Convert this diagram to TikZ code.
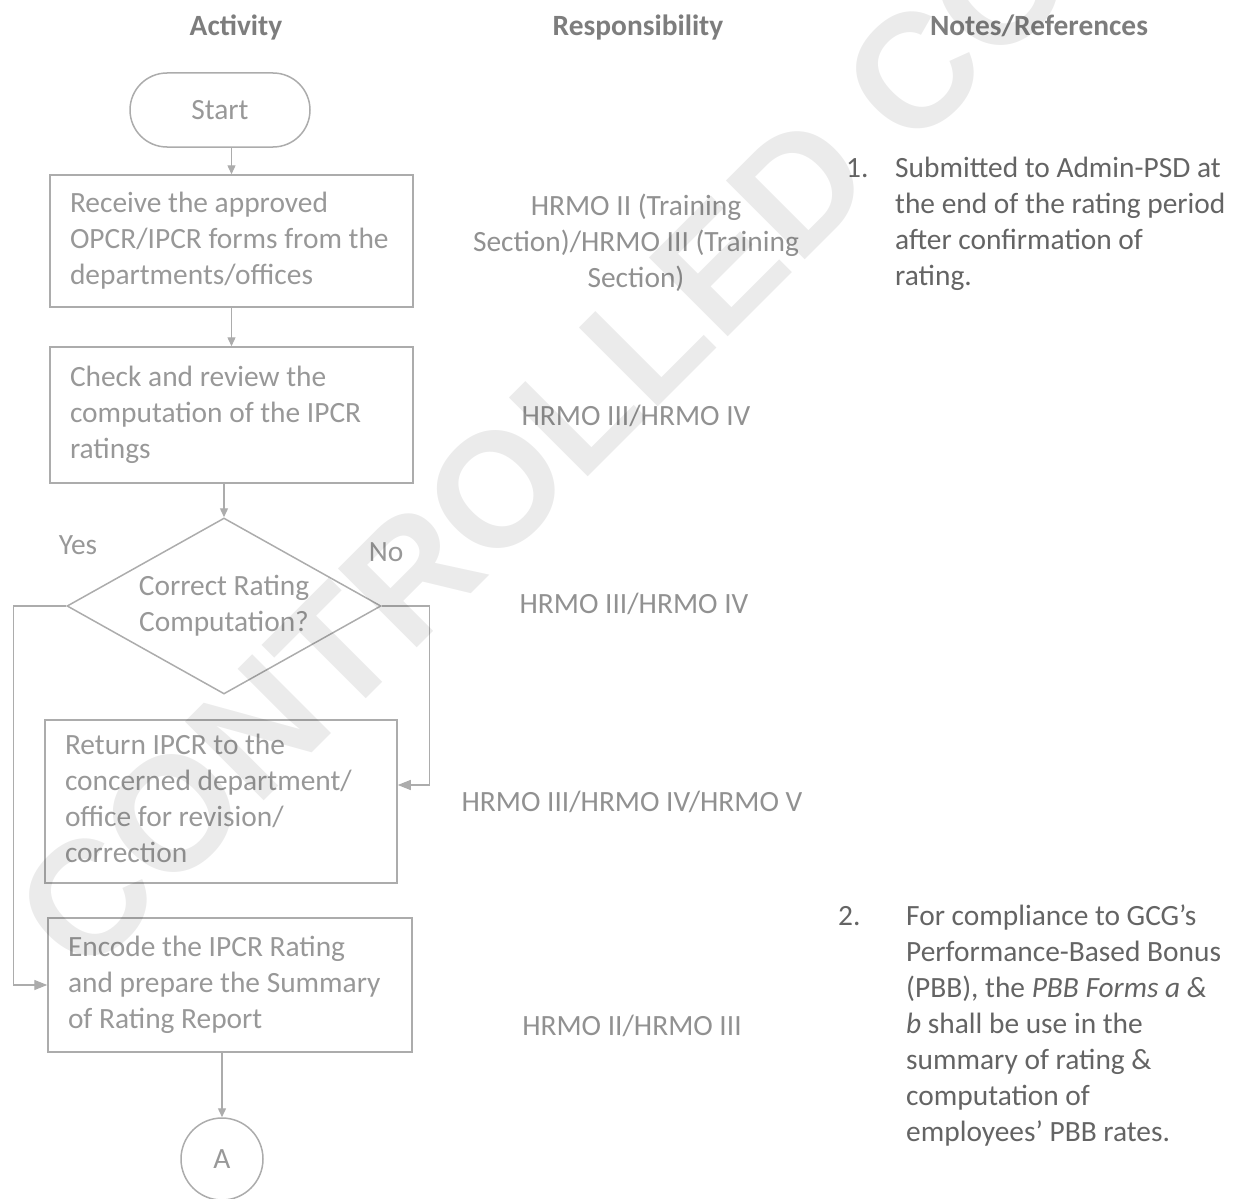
\documentclass[tikz,border=0pt]{standalone}
\usepackage{fontspec}
\setmainfont{Carlito}
\newfontfamily\wmfont{Liberation Sans}
\usetikzlibrary{shapes.geometric,arrows.meta,calc}

\definecolor{lineg}{RGB}{172,172,172}
\definecolor{flowtxt}{RGB}{152,152,152}
\definecolor{resptxt}{RGB}{145,145,145}
\definecolor{notetxt}{RGB}{100,100,100}
\definecolor{headtxt}{RGB}{125,125,125}

\begin{document}
\begin{tikzpicture}[x=1pt,y=-1pt,
  every node/.style={font=\fontsize{29.4}{36}\selectfont},
  stepbox/.style={draw=lineg, line width=1.5pt, rectangle, inner xsep=20pt, inner ysep=0pt,
    align=flush left, text=flowtxt, execute at begin node=\strut, execute at end node=\strut},
  termbox/.style={draw=lineg, line width=1.5pt, rectangle, rounded corners=37pt, text=flowtxt},
  decbox/.style={diamond, draw=lineg, line width=1.5pt, inner sep=0pt, align=center, text=flowtxt},
  connbox/.style={circle, draw=lineg, line width=1.5pt, inner sep=0pt, text=flowtxt},
  flow/.style={draw=lineg, line width=1.4pt, -{Triangle[length=9pt,width=8pt]}},
  sideflow/.style={draw=lineg, line width=1.4pt, -{Triangle[length=13pt,width=10pt]}},
  head/.style={font=\fontsize{29.4}{36}\selectfont\bfseries, text=headtxt, inner sep=0pt},
  resp/.style={text=resptxt, inner sep=0pt},
  lbl/.style={text=flowtxt, inner sep=0pt},
  note/.style={text=notetxt, inner sep=0pt}
]
\useasboundingbox (0,0) rectangle (1235,1199);

% column headings
\node[head, anchor=base] (hact) at (236,36) {Activity};
\node[head, anchor=base] (hresp) at (638,36) {Responsibility};
\node[head, anchor=base] (hnote) at (1039,36) {Notes/References};

% activity column
\node[termbox, minimum width=180pt, minimum height=74pt] (start) at (220,110) {Start};

\node[stepbox, minimum height=132pt, text width=323pt] (recv) at (231.5,241)
  {Receive the approved\\\mbox{OPCR/IPCR forms from the}\\departments/offices};

\node[stepbox, minimum height=136pt, text width=323pt] (check) at (231.5,415)
  {Check and review the\\computation of the IPCR\\ratings};

\node[decbox, aspect=1.78, minimum width=314pt, minimum height=176pt] (dec) at (224,606)
  {Correct Rating\\Computation?};

\node[stepbox, minimum height=163pt, text width=312pt] (ret) at (221,801.5)
  {Return IPCR to the\\concerned department/\\office for revision/\\correction};

\node[stepbox, minimum height=134pt, text width=324pt] (enc) at (230,985)
  {Encode the IPCR Rating\\\mbox{and prepare the Summary}\\of Rating Report};

\node[connbox, minimum size=82pt] (conA) at (222,1159) {A};

\node[lbl, anchor=base] (yes) at (78,554) {Yes};
\node[lbl, anchor=base] (no) at (386,561) {No};

% connectors
\draw[flow] (recv.north |- start.south) -- (recv.north);
\draw[flow] (recv.south) -- (check.north);
\draw[flow] (dec.north |- check.south) -- (dec.north);
\coordinate (retin) at ($(ret.east)+(0,-16.5)$);
\draw[sideflow] (dec.east) -- ++(48,0) |- (retin);
\draw[sideflow] (dec.west) -- ++(-53,0) |- (enc.west);
\draw[flow] (conA.north |- enc.south) -- (conA.north);

% responsibility column
\node[resp, anchor=north, align=center] (r1) at (636,189.8)
  {\strut HRMO II (Training\\Section)/HRMO III (Training\\Section)};
\node[resp, anchor=base] (r2) at (636,425) {HRMO III/HRMO IV};
\node[resp, anchor=base] (r3) at (634,613) {HRMO III/HRMO IV};
\node[resp, anchor=base] (r4) at (632,811) {HRMO III/HRMO IV/HRMO V};
\node[resp, anchor=base] (r5) at (632,1035) {HRMO II/HRMO III};

% notes column
\node[note, anchor=base west] (n1num) at (846,177) {1.};
\node[note, anchor=north west, align=left] (n1) at (895,151.8)
  {\strut Submitted to Admin-PSD at\\the end of the rating period\\after confirmation of\\rating.};
\node[note, anchor=base west] (n2num) at (838,925) {2.};
\node[note, anchor=north west, align=left] (n2) at (906,899.8)
  {\strut For compliance to GCG’s\\Performance-Based Bonus\\(PBB), the \textit{PBB Forms a \&}\\\textit{b} shall be use in the\\summary of rating \&\\computation of\\employees’ PBB rates.};

% watermark
\node[rotate=45, font=\wmfont\bfseries\fontsize{162}{162}\selectfont, text=black,
  opacity=0.08, inner sep=0pt] (wm) at (621,365) {CONTROLLED COPY};
\end{tikzpicture}
\end{document}
